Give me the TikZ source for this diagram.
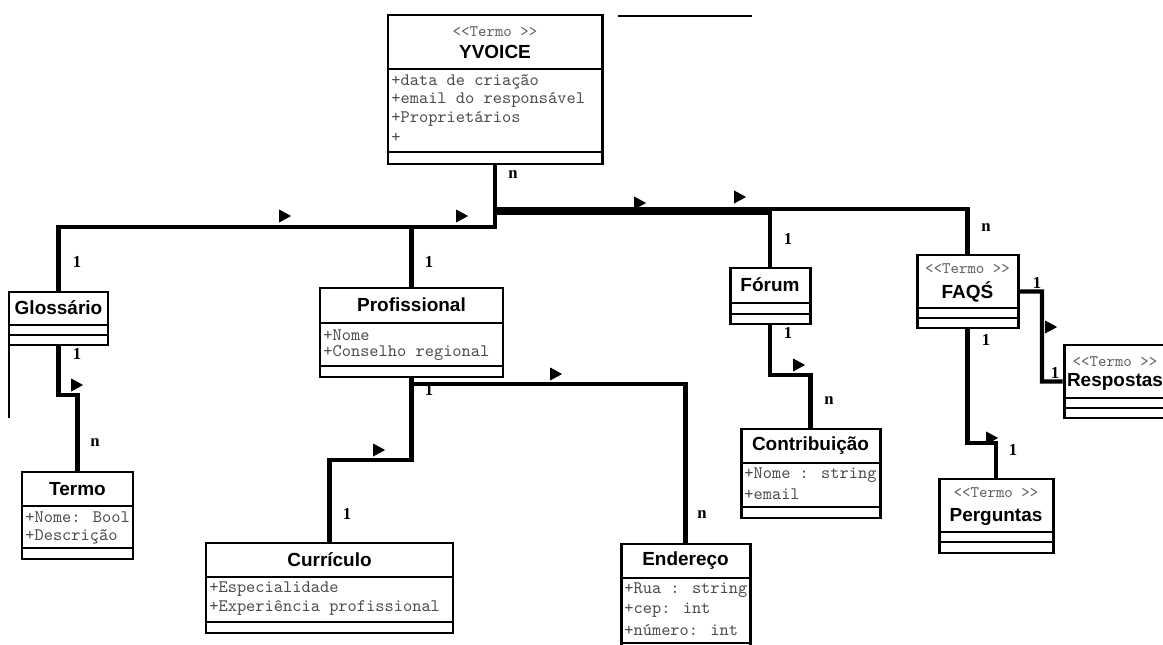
\documentclass[tikz,border=0pt]{standalone}
\usepackage{fontspec}
\setmainfont{Liberation Sans}
\newfontfamily\multfont{Liberation Serif}
\usetikzlibrary{fit,shapes.geometric}

\tikzset{
    classbox/.style={draw, line width=1.7pt, inner sep=0pt, fill=white},
    sepline/.style={line width=1.1pt},
    cname/.style={font=\bfseries\fontsize{10.8}{12}\selectfont, inner sep=0pt},
    stereo/.style={font=\ttfamily\fontsize{9.2}{10}\selectfont, text=black!60, inner sep=0pt},
    attr/.style={font=\ttfamily\fontsize{10}{11}\selectfont, text=black!70, inner sep=0pt, anchor=west},
    conn/.style={line width=2.5pt},
    mult/.style={font=\multfont\bfseries\fontsize{9.5}{10}\selectfont, inner sep=0pt},
    navtip/.style={isosceles triangle, isosceles triangle stretches, fill=black, inner sep=0pt,
        minimum width=0.26cm, minimum height=0.24cm},
}

\begin{document}
\begin{tikzpicture}[x=0.02cm, y=-0.02cm]
    \fill[white] (0,0) rectangle (1163,645);
    \useasboundingbox (0,0) rectangle (1163,645);

    % loose strokes
    \draw[line width=1.2pt] (618,16) -- (752,16);
    \draw[line width=1pt] (9,345) -- (9,418);

    % classes
    \node[classbox, fit={(388,15) (602,164)}] (yvoice) {};
    \draw[sepline] (388,69) -- (602,69);
    \draw[sepline] (388,152) -- (602,152);
    \node[stereo] (yvoicest) at (495,32) {<<Termo >>};
    \node[cname] (yvoicename) at (495,52) {YVOICE};
    \node[attr] (yvoicea1) at (391,82) {+data de criação};
    \node[attr] (yvoicea2) at (391,100) {+email do responsável};
    \node[attr] (yvoicea3) at (391,119) {+Proprietários};
    \node[attr] (yvoicea4) at (391,138) {+};

    \node[classbox, fit={(9,292) (108,345)}] (glossario) {};
    \draw[sepline] (9,325) -- (108,325);
    \draw[sepline] (9,335) -- (108,335);
    \node[cname] (glossarioname) at (58.5,308) {Glossário};

    \node[classbox, fit={(320,288) (503,377)}] (profissional) {};
    \draw[sepline] (320,323) -- (503,323);
    \draw[sepline] (320,366) -- (503,366);
    \node[cname] (profissionalname) at (411.5,305) {Profissional};
    \node[attr] (profissionala1) at (323,335) {+Nome};
    \node[attr] (profissionala2) at (323,353) {+Conselho regional};

    \node[classbox, fit={(730,268) (810,324)}] (forum) {};
    \draw[sepline] (730,303) -- (810,303);
    \draw[sepline] (730,314) -- (810,314);
    \node[cname] (forumname) at (770,285) {Fórum};

    \node[classbox, fit={(917,255) (1018,328)}] (faqs) {};
    \draw[sepline] (917,308) -- (1018,308);
    \draw[sepline] (917,318) -- (1018,318);
    \node[stereo] (faqsst) at (967.5,269) {<<Termo >>};
    \node[cname] (faqsname) at (967.5,292) {FAQŚ};

    \node[classbox, fit={(22,472) (133,559)}] (termo) {};
    \draw[sepline] (22,506) -- (133,506);
    \draw[sepline] (22,548) -- (133,548);
    \node[cname] (termoname) at (77.5,489) {Termo};
    \node[attr] (termoa1) at (25,517) {+Nome: Bool};
    \node[attr] (termoa2) at (25,537) {+Descrição};

    \node[classbox, fit={(206,543) (453,633)}] (curriculo) {};
    \draw[sepline] (206,577) -- (453,577);
    \draw[sepline] (206,622) -- (453,622);
    \node[cname] (curriculoname) at (329.5,560) {Currículo};
    \node[attr] (curriculoa1) at (209,589) {+Especialidade};
    \node[attr] (curriculoa2) at (209,608) {+Experiência profissional};

    \node[classbox, fit={(621,544) (750,660)}] (endereco) {};
    \draw[sepline] (621,578) -- (750,578);
    \draw[sepline] (621,643) -- (750,643);
    \node[cname] (endereconame) at (685.5,561) {Endereço};
    \node[attr] (enderecoa1) at (624,590) {+Rua : string};
    \node[attr] (enderecoa2) at (624,610) {+cep: int};
    \node[attr] (enderecoa3) at (624,630) {+número: int};

    \node[classbox, fit={(741,429) (880,518)}] (contribuicao) {};
    \draw[sepline] (741,463) -- (880,463);
    \draw[sepline] (741,507) -- (880,507);
    \node[cname] (contribuicaoname) at (810.5,446) {Contribuição};
    \node[attr] (contribuicaoa1) at (744,475) {+Nome : string};
    \node[attr] (contribuicaoa2) at (744,494) {+email};

    \node[classbox, fit={(1064,345) (1166,418)}] (respostas) {};
    \draw[sepline] (1064,398) -- (1166,398);
    \draw[sepline] (1064,408) -- (1166,408);
    \node[stereo] (respostasst) at (1115,362) {<<Termo >>};
    \node[cname] (respostasname) at (1115,382) {Respostas};

    \node[classbox, fit={(939,479) (1053,553)}] (perguntas) {};
    \draw[sepline] (939,532) -- (1053,532);
    \draw[sepline] (939,542) -- (1053,542);
    \node[stereo] (perguntasst) at (996,493) {<<Termo >>};
    \node[cname] (perguntasname) at (996,517) {Perguntas};

    % associations
    \coordinate (hubl) at (495,227);
    \coordinate (hubf) at (495,213);
    \coordinate (hubq) at (495,209);
    \draw[conn] (yvoice.south) -- (hubl) -| (glossario.north);
    \draw[conn] (hubl) -| (profissional.north);
    \draw[conn] (hubf) -| (forum.north);
    \draw[conn] (hubq) -| (faqs.north);

    \coordinate (gt) at (58.5,395);
    \draw[conn] (glossario.south) -- (gt) -| (termo.north);
    \coordinate (pc) at (411.5,460);
    \draw[conn] (profissional.south) -- (pc) -| (curriculo.north);
    \coordinate (pe) at (411.5,384);
    \draw[conn] (profissional.south) -- (pe) -| (endereco.north);
    \coordinate (fc) at (770,375);
    \draw[conn] (forum.south) -- (fc) -| (contribuicao.north);
    \coordinate (qp) at (967.5,443);
    \draw[conn] (faqs.south) -- (qp) -| (perguntas.north);
    \coordinate (qr) at (1042,291.5);
    \draw[conn] (faqs.east) -- (qr) |- (respostas.west);

    % direction marks
    \node[navtip] (tip1) at (283,216) {};
    \node[navtip] (tip2) at (460,216) {};
    \node[navtip] (tip3) at (638,203) {};
    \node[navtip] (tip4) at (738,197) {};
    \node[navtip] (tip5) at (75,385) {};
    \node[navtip] (tip6) at (377,450) {};
    \node[navtip] (tip7) at (554,374) {};
    \node[navtip] (tip8) at (797,365) {};
    \node[navtip] (tip9) at (1049,327) {};
    \node[navtip] (tip10) at (990,438) {};

    % multiplicities
    \node[mult] (m1) at (513,175) {n};
    \node[mult] (m2) at (77,262) {1};
    \node[mult] (m3) at (429,262) {1};
    \node[mult] (m4) at (788,239) {1};
    \node[mult] (m5) at (986,228) {n};
    \node[mult] (m6) at (77,354) {1};
    \node[mult] (m7) at (95,443) {n};
    \node[mult] (m8) at (429,390) {1};
    \node[mult] (m9) at (347,514) {1};
    \node[mult] (m10) at (702,515) {n};
    \node[mult] (m11) at (788,333) {1};
    \node[mult] (m12) at (829,401) {n};
    \node[mult] (m13) at (1037,283) {1};
    \node[mult] (m14) at (1055,373) {1};
    \node[mult] (m15) at (986,340) {1};
    \node[mult] (m16) at (1013,450) {1};
\end{tikzpicture}
\end{document}
